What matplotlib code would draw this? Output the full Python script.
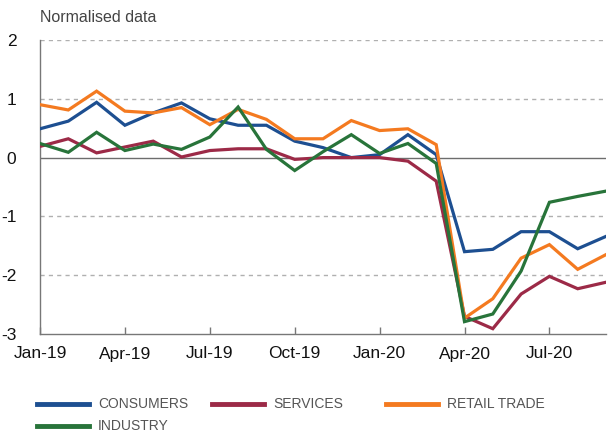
import matplotlib
matplotlib.use('Agg')
import matplotlib.pyplot as plt
from matplotlib.lines import Line2D
from matplotlib import font_manager

months = ['Jan-19', 'Feb-19', 'Mar-19', 'Apr-19', 'May-19', 'Jun-19', 'Jul-19',
          'Aug-19', 'Sep-19', 'Oct-19', 'Nov-19', 'Dec-19', 'Jan-20', 'Feb-20',
          'Mar-20', 'Apr-20', 'May-20', 'Jun-20', 'Jul-20', 'Aug-20', 'Sep-20']

consumers = [0.49, 0.62, 0.94, 0.55, 0.76, 0.93, 0.66, 0.55, 0.55, 0.28, 0.17,
             0.00, 0.05, 0.39, 0.05, -1.60, -1.56, -1.26, -1.26, -1.55, -1.34]
services = [0.19, 0.32, 0.08, 0.18, 0.28, 0.01, 0.12, 0.15, 0.15, -0.03, 0.00,
            0.00, 0.00, -0.06, -0.40, -2.70, -2.91, -2.32, -2.02, -2.23, -2.12]
retail = [0.90, 0.81, 1.13, 0.79, 0.76, 0.85, 0.56, 0.82, 0.65, 0.32, 0.32,
          0.63, 0.46, 0.49, 0.22, -2.73, -2.40, -1.71, -1.48, -1.90, -1.65]
industry = [0.24, 0.09, 0.43, 0.12, 0.23, 0.14, 0.35, 0.86, 0.14, -0.22, 0.10,
            0.39, 0.07, 0.24, -0.10, -2.79, -2.66, -1.93, -0.76, -0.66, -0.57]

series = [
    ('CONSUMERS', consumers, '#1d4f91'),
    ('SERVICES', services, '#9c2a47'),
    ('RETAIL TRADE', retail, '#f47a20'),
    ('INDUSTRY', industry, '#28743a'),
]

tick_pos = [0, 3, 6, 9, 12, 15, 18]
y_ticks = [2, 1, 0, -1, -2, -3]

names = {f.name for f in font_manager.fontManager.ttflist}
base_font = 'Liberation Sans'
narrow_font = 'Liberation Sans Narrow' if 'Liberation Sans Narrow' in names else base_font
plt.rcParams['font.family'] = [base_font, 'DejaVu Sans']

W, H = 609, 433
fig = plt.figure(figsize=(W / 100, H / 100), dpi=100)
ax = fig.add_axes([40 / W, 1 - 334 / H, 566 / W, 294 / H])

x = list(range(len(months)))
for name, vals, col in series:
    ax.plot(x, vals, color=col, linewidth=2.3, solid_joinstyle='miter', zorder=3)

ax.set_xlim(0, len(months) - 1)
ax.set_ylim(-3, 2)

for v in y_ticks:
    if v == 0:
        ax.axhline(0, color='#6d6d6d', linewidth=1.0, zorder=2)
    elif v != -3:
        ax.axhline(v, color='#b0b0b0', linewidth=1.0, linestyle=(0, (3, 3)), zorder=1)

ax.set_xticks(tick_pos)
ax.set_xticklabels([months[i] for i in tick_pos])
ax.set_yticks(y_ticks)
ax.set_yticklabels([str(v) for v in y_ticks])
ax.tick_params(axis='x', direction='in', length=5, width=1, color='#777777',
               labelsize=12.5, pad=9, labelcolor='#111111')
ax.tick_params(axis='y', length=0, labelsize=12.5, pad=17, labelcolor='#111111')

for s in ['top', 'right']:
    ax.spines[s].set_visible(False)
for s in ['left', 'bottom']:
    ax.spines[s].set_color('#777777')
    ax.spines[s].set_linewidth(1.0)

fig.text(40 / W, 1 - 18 / H, 'Normalised data', fontsize=11.5, color='#444444',
         va='center', ha='left')

# legend laid out by hand, three fixed-width columns
slots = [(37, 404), (212, 404), (386, 404), (37, 426)]
for (name, vals, col), (lx, ly) in zip(series, slots):
    fig.add_artist(Line2D([lx / W, (lx + 52) / W], [1 - ly / H, 1 - ly / H],
                          color=col, linewidth=3.5, transform=fig.transFigure))
    fig.text((lx + 61) / W, 1 - ly / H, name, fontsize=10, color='#555555',
             family=[narrow_font, 'DejaVu Sans'], va='center', ha='left')

fig.savefig('out.png', dpi=100)
